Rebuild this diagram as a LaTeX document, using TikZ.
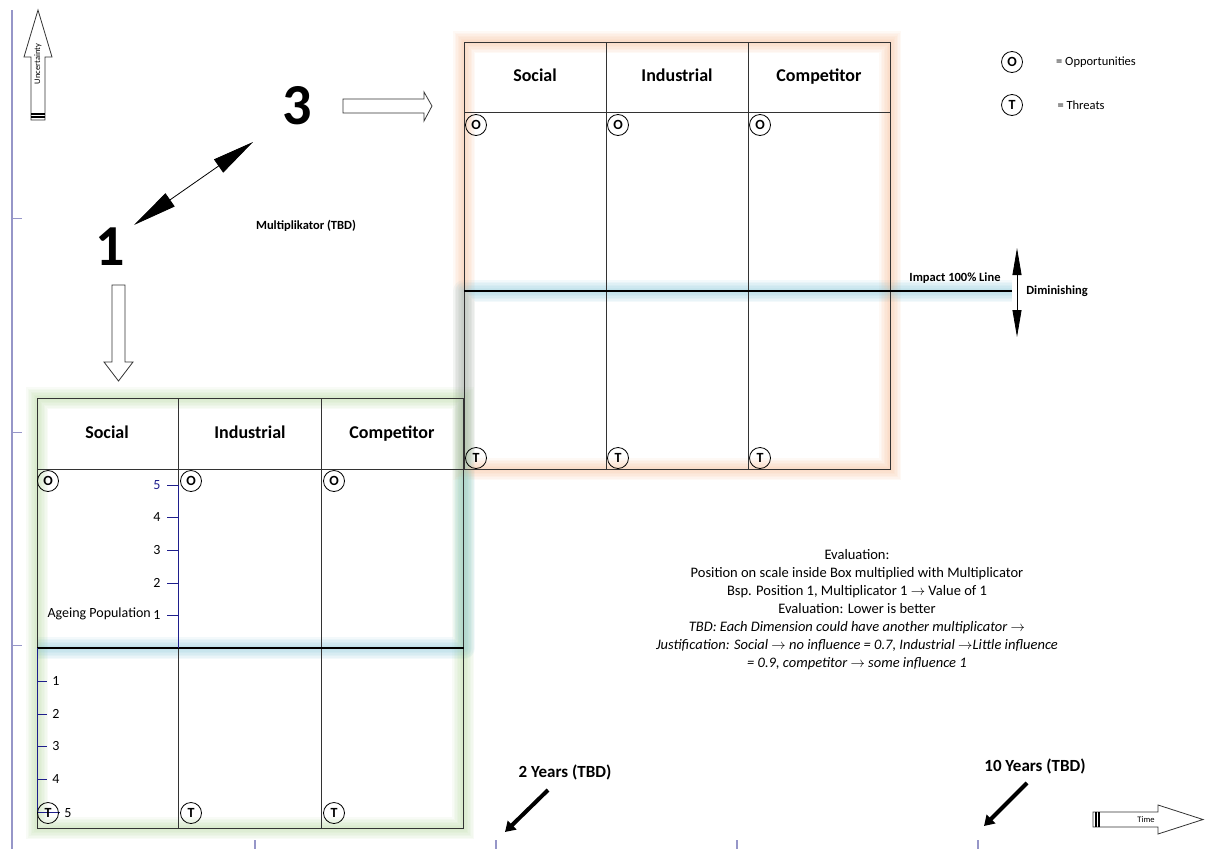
\documentclass[tikz,border=0pt]{standalone}
\usepackage{fontspec}
\setmainfont{Carlito}
\usetikzlibrary{ arrows.meta,  % For the arrow tips
                 positioning,  % For easy node-relative placements
               }
\definecolor{axiscol}{RGB}{150,150,200}
\definecolor{scalecol}{RGB}{30,30,140}
\definecolor{gloworange}{RGB}{244,177,131}
\definecolor{glowgreen}{RGB}{169,209,142}
\definecolor{glowblue}{RGB}{140,200,218}
\tikzstyle{marker} = [circle, draw=black, thick, inner sep=0pt, minimum size=21pt, font=\fontsize{14}{14}\selectfont\bfseries]
\tikzstyle{head} = [font=\fontsize{18}{18}\selectfont\bfseries, text height=2.2ex, text depth=0.6ex]
\tikzstyle{bignum} = [font=\fontsize{58}{58}\selectfont\bfseries]
\tikzstyle{small_bold} = [font=\fontsize{12.5}{14}\selectfont\bfseries]
\tikzstyle{tick_label} = [font=\fontsize{14}{14}\selectfont, inner sep=1pt]
\tikzstyle{grid_line} = [draw=black!80, line width=1pt]
\tikzstyle{block_arrow} = [draw=black!80, fill=white, line width=0.8pt]
\tikzstyle{thick_arrow} = [line width=4pt, -{Triangle[length=10pt,width=12pt]}]

\begin{document}
\begin{tikzpicture}[x=1pt, y=-1pt]
  \useasboundingbox (0,0) rectangle (1218,849);

  % axes
  \draw [axiscol, line width=1.5pt] (12,10) -- (12,849);
  \foreach \y in {218,432,645}
    \draw [axiscol, line width=1pt] (12,\y) -- (22,\y);
  \foreach \x in {255,496,737,978}
    \draw [axiscol, line width=1.5pt] (\x,840) -- (\x,849);

  % uncertainty arrow
  \draw [block_arrow] (38,10) -- (52,57) -- (45,57) -- (45,120) -- (31,120) -- (31,57) -- (24,57) -- cycle;
  \draw [line width=1.2pt] (31,114) -- (45,114) (31,117) -- (45,117);
  \node (unc) [rotate=90, font=\fontsize{8.5}{8.5}\selectfont] at (38,64) {Uncertainty};

  % time arrow
  \draw [block_arrow] (1093,812) -- (1158,812) -- (1158,805) -- (1203,819.5) -- (1158,834) -- (1158,827) -- (1093,827) -- cycle;
  \draw [line width=1.2pt] (1096,812) -- (1096,827) (1099,812) -- (1099,827);
  \node (time) [font=\fontsize{8.5}{8.5}\selectfont] at (1146,820) {Time};

  % glows
  \foreach \w in {22,19,16,13,10,7,4} {
    \draw [gloworange, line width=\w pt, opacity=0.08] (464,42) rectangle (890,469);
    \draw [glowgreen, line width=\w pt, opacity=0.08] (37,398) rectangle (463,828);
    \draw [glowblue, line width=\w pt, opacity=0.1, line join=round] (1012,291) -- (464,291) -- (464,648) -- (37,648);
  }

  % right table
  \draw [grid_line] (464,42) rectangle (890,469);
  \draw [grid_line] (464,112) -- (890,112);
  \draw [grid_line] (606,42) -- (606,469);
  \draw [grid_line] (748,42) -- (748,469);
  \draw [black, line width=1.2pt] (464,291) -- (1012,291);
  \node (rs) [head] at (535,78) {Social};
  \node (ri) [head] at (677,78) {Industrial};
  \node (rc) [head] at (819,78) {Competitor};
  \foreach \x [count=\i] in {476,618,760} {
    \node (ro\i) [marker] at (\x,125) {O};
    \node (rt\i) [marker] at (\x,458) {T};
  }

  % left table
  \draw [grid_line] (37,398) rectangle (463,828);
  \draw [grid_line] (37,469) -- (463,469);
  \draw [grid_line] (178,398) -- (178,828);
  \draw [grid_line] (321,398) -- (321,828);
  \draw [black, line width=1.2pt] (37,648) -- (464,648);
  \node (ls) [head] at (107,435) {Social};
  \node (li) [head] at (250,435) {Industrial};
  \node (lc) [head] at (392,435) {Competitor};

  % scales
  \draw [scalecol, line width=1pt] (178,485) -- (178,648);
  \foreach \y/\n in {615/1,583/2,550/3,517/4} {
    \draw [scalecol, line width=1pt] (167,\y) -- (178,\y);
    \node (up\n) [tick_label] at (157,\y) {\n};
  }
  \draw [scalecol, line width=1pt] (167,485) -- (178,485);
  \node (up5) [tick_label, text=scalecol] at (157,485) {5};
  \node (age) [tick_label, anchor=east] at (152,614) {Ageing Population};
  \draw [scalecol, line width=1pt] (37,648) -- (37,812);
  \foreach \y/\n in {681/1,714/2,746/3,779/4} {
    \draw [scalecol, line width=1pt] (37,\y) -- (47,\y);
    \node (lo\n) [tick_label] at (56,\y) {\n};
  }
  \draw [scalecol, line width=1pt] (37,812) -- (60,812);
  \node (lo5) [tick_label] at (68,813) {5};
  \foreach \x [count=\i] in {48,191,334} {
    \node (lo\i) [marker] at (\x,481) {O};
    \node (lt\i) [marker] at (\x,813) {T};
  }

  % multiplier
  \node (three) [bignum] at (297,106) {3};
  \node (one) [bignum] at (110,247) {1};
  \coordinate (m1) at (134,225);
  \coordinate (m3) at (253,142);
  \draw [line width=0.8pt, {Triangle[length=44pt,width=16pt]}-{Triangle[length=42pt,width=16pt]}] (m1) -- (m3);
  \node (mult) [small_bold] at (306,226) {Multiplikator (TBD)};
  \draw [block_arrow] (343,99) -- (424,99) -- (424,92) -- (432,106) -- (424,121) -- (424,113) -- (343,113) -- cycle;
  \draw [block_arrow] (112,285) -- (125,285) -- (125,362) -- (133,362) -- (118.5,381) -- (104,362) -- (112,362) -- cycle;

  % legend
  \node (lego) [marker] at (1012,62) {O};
  \node (legot) [font=\fontsize{12.5}{13}\selectfont] at (1096,62) {= Opportunities};
  \node (legt) [marker] at (1012,105) {T};
  \node (legtt) [font=\fontsize{12.5}{13}\selectfont, anchor=west] at (1054,105) {= Threats};

  % impact line
  \node (impact) [small_bold] at (955,278) {Impact 100\% Line};
  \node (dim) [small_bold] at (1057,291) {Diminishing};
  \coordinate (dtop) at (1017,248);
  \coordinate (dbot) at (1017,337);
  \draw [line width=0.8pt, {Triangle[length=27pt,width=9pt]}-{Triangle[length=27pt,width=9pt]}] (dtop) -- (dbot);

  % evaluation
  \node (eval) [align=center, font=\fontsize{14.5}{18}\selectfont] at (857,610) {Evaluation:\\
    Position on scale inside Box multiplied with Multiplicator\\
    Bsp. Position 1, Multiplicator 1 $\rightarrow$ Value of 1\\
    Evaluation: Lower is better\\
    \textit{TBD: Each Dimension could have another multiplicator $\rightarrow$}\\
    \textit{Justification: Social $\rightarrow$ no influence = 0.7, Industrial $\rightarrow$Little influence}\\
    \textit{= 0.9, competitor $\rightarrow$ some influence 1}};

  % time marks
  \node (two) [font=\fontsize{17}{17}\selectfont\bfseries] at (565,772) {2 Years (TBD)};
  \coordinate (two_s) at (548,790);
  \coordinate (two_e) at (505,832);
  \draw [thick_arrow] (two_s) -- (two_e);
  \node (ten) [font=\fontsize{17}{17}\selectfont\bfseries] at (1035,766) {10 Years (TBD)};
  \coordinate (ten_s) at (1027,783);
  \coordinate (ten_e) at (984,826);
  \draw [thick_arrow] (ten_s) -- (ten_e);
\end{tikzpicture}
\end{document}
